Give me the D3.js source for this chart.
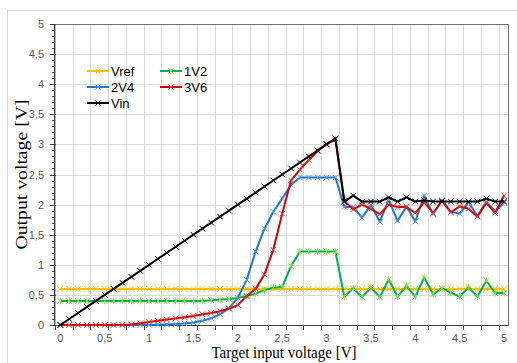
<!DOCTYPE html>
<html>
<head>
<meta charset="utf-8">
<script src="https://cdn.jsdelivr.net/npm/d3@7"></script>
<style>
  body { margin: 0; background: #fff; }
  svg { display: block; }
</style>
</head>
<body>
<div id="chart"></div>
<script>
// x values (target input voltage)
const xValues = [0, 0.1, 0.2, 0.3, 0.4, 0.5, 0.6, 0.7, 0.8, 0.9,
    1, 1.1, 1.2, 1.3, 1.4, 1.5, 1.6, 1.7, 1.8, 1.9,
    2, 2.1, 2.2, 2.3, 2.4, 2.5, 2.6, 2.7, 2.8, 2.9,
    3, 3.1, 3.2, 3.3, 3.4, 3.5, 3.6, 3.7, 3.8, 3.9,
    4, 4.1, 4.2, 4.3, 4.4, 4.5, 4.6, 4.7, 4.8, 4.9, 5];

const vref = [0.6, 0.6, 0.6, 0.6, 0.6, 0.6, 0.6, 0.6, 0.6, 0.6,
    0.6, 0.6, 0.6, 0.6, 0.6, 0.6, 0.6, 0.6, 0.6, 0.6,
    0.6, 0.6, 0.6, 0.6, 0.6, 0.6, 0.6, 0.6, 0.6, 0.6,
    0.6, 0.6, 0.6, 0.6, 0.6, 0.6, 0.6, 0.6, 0.6, 0.6,
    0.6, 0.6, 0.6, 0.6, 0.6, 0.6, 0.6, 0.6, 0.6, 0.6, 0.6];

const v1V2 = [0.4, 0.4, 0.4, 0.4, 0.4, 0.4, 0.4, 0.4, 0.4, 0.4,
    0.4, 0.4, 0.4, 0.4, 0.4, 0.4, 0.4, 0.41, 0.42, 0.43,
    0.45, 0.48, 0.52, 0.58, 0.62, 0.63, 0.98, 1.22, 1.22, 1.22,
    1.22, 1.22, 0.47, 0.61, 0.46, 0.63, 0.46, 0.76, 0.47, 0.65,
    0.47, 0.79, 0.51, 0.61, 0.54, 0.47, 0.63, 0.47, 0.74, 0.53, 0.53];

const v2V4 = [0, 0, 0, 0, 0, 0, 0, 0, 0, 0,
    0, 0.005, 0.01, 0.015, 0.025, 0.04, 0.07, 0.11, 0.18, 0.28,
    0.45, 0.75, 1.22, 1.6, 1.88, 2.1, 2.33, 2.45, 2.45, 2.45,
    2.45, 2.45, 1.96, 1.96, 1.78, 2.0, 1.71, 2.08, 1.73, 1.97,
    1.72, 2.15, 1.84, 2.07, 1.88, 1.85, 2.04, 1.81, 2.05, 1.89, 2.03];

const v3V6 = [0, 0, 0, 0, 0, 0, 0, 0, 0.01, 0.03,
    0.05, 0.07, 0.09, 0.11, 0.13, 0.15, 0.18, 0.2, 0.23, 0.27,
    0.33, 0.48, 0.6, 0.84, 1.25, 1.85, 2.4, 2.58, 2.74, 2.89,
    3.01, 3.08, 2.06, 1.92, 2.0, 1.93, 1.84, 2.0, 1.96, 1.96,
    1.86, 2.04, 1.86, 2.06, 1.87, 1.97, 1.93, 1.8, 2.03, 1.86, 2.15];

const vin = [0, 0.1, 0.2, 0.3, 0.4, 0.5, 0.6, 0.7, 0.8, 0.9,
    1, 1.1, 1.2, 1.3, 1.4, 1.5, 1.6, 1.7, 1.8, 1.9,
    2, 2.1, 2.2, 2.3, 2.4, 2.5, 2.6, 2.7, 2.8, 2.9,
    3, 3.1, 2.05, 2.15, 2.05, 2.05, 2.05, 2.12, 2.05, 2.12,
    2.05, 2.07, 2.05, 2.05, 2.05, 2.05, 2.05, 2.05, 2.1, 2.05, 2.05];

const xTickLabels = [0, 0.5, 1, 1.5, 2, 2.5, 3, 3.5, 4, 4.5, 5];
const yTickLabels = [0, 0.5, 1, 1.5, 2, 2.5, 3, 3.5, 4, 4.5, 5];

const SERIES = [
    { name: "Vref", values: vref, line: "#FFC000", marker: "#FFC000", shape: "x" },
    { name: "1V2", values: v1V2, line: "#00B050", marker: "#92D050", shape: "star" },
    { name: "2V4", values: v2V4, line: "#1E78C8", marker: "#5B9BD5", shape: "x" },
    { name: "3V6", values: v3V6, line: "#D00000", marker: "#E03A3A", shape: "x" },
    { name: "Vin", values: vin, line: "#000000", marker: "#000000", shape: "x" }
];

const width = 517, height = 363;
const plot = { left: 55, right: 508.5, top: 24, bottom: 325 };
const xMin = -0.06, xMax = 5.05;

const svg = d3.select("#chart").append("svg")
    .attr("width", width)
    .attr("height", height);

// outer chart frame
svg.append("rect")
    .attr("x", 7.5).attr("y", 10.5)
    .attr("width", 530).attr("height", 370)
    .attr("fill", "none")
    .attr("stroke", "#d9d9d9");

const x = d3.scaleLinear().domain([xMin, xMax]).range([plot.left, plot.right]);
const y = d3.scaleLinear().domain([0, 5]).range([plot.bottom, plot.top]);

// gridlines (every 0.2 from the axis minimum)
const vGrid = d3.range(0, 26).map(i => xMin + i * 0.2).filter(v => v < xMax - 0.01);
svg.append("g").selectAll("line")
    .data(vGrid.slice(1))
    .enter().append("line")
    .attr("x1", d => Math.round(x(d)) + 0.5).attr("x2", d => Math.round(x(d)) + 0.5)
    .attr("y1", plot.top).attr("y2", plot.bottom)
    .attr("stroke", "#d9d9d9");

svg.append("g").selectAll("line")
    .data(yTickLabels.slice(1, -1))
    .enter().append("line")
    .attr("x1", plot.left).attr("x2", plot.right)
    .attr("y1", d => Math.round(y(d)) + 0.5).attr("y2", d => Math.round(y(d)) + 0.5)
    .attr("stroke", "#d9d9d9");

// plot border
svg.append("rect")
    .attr("x", plot.left).attr("y", plot.top + 0.5)
    .attr("width", plot.right - plot.left).attr("height", plot.bottom - plot.top)
    .attr("fill", "none")
    .attr("stroke", "#707070");

// x axis: ticks on gridline positions, labels at 0.5 steps
const xAxisG = svg.append("g");
xAxisG.append("line")
    .attr("x1", plot.left).attr("x2", plot.right)
    .attr("y1", plot.bottom + 0.5).attr("y2", plot.bottom + 0.5)
    .attr("stroke", "#404040");
xAxisG.selectAll("line.tk")
    .data(vGrid)
    .enter().append("line")
    .attr("class", "tk")
    .attr("x1", d => Math.round(x(d)) + 0.5).attr("x2", d => Math.round(x(d)) + 0.5)
    .attr("y1", plot.bottom).attr("y2", plot.bottom + 5)
    .attr("stroke", "#404040");
xAxisG.selectAll("text")
    .data(xTickLabels)
    .enter().append("text")
    .attr("x", d => x(d))
    .attr("y", plot.bottom + 17)
    .attr("text-anchor", "middle")
    .attr("fill", "#595959")
    .style("font", "11px 'Liberation Sans', Arial, sans-serif")
    .text(d => String(d).replace(".", ","));

// y axis
const yAxisG = svg.append("g");
yAxisG.append("line")
    .attr("x1", plot.left - 0.5).attr("x2", plot.left - 0.5)
    .attr("y1", plot.top).attr("y2", plot.bottom)
    .attr("stroke", "#404040");
const yMinor = d3.range(0, 51).map(i => i / 10);
yAxisG.selectAll("line.tk")
    .data(yMinor)
    .enter().append("line")
    .attr("class", "tk")
    .attr("x1", d => (Math.round(d * 10) % 5 === 0) ? plot.left - 5 : plot.left - 3)
    .attr("x2", d => (Math.round(d * 10) % 5 === 0) ? plot.left + 1 : plot.left)
    .attr("y1", d => Math.round(y(d)) + 0.5).attr("y2", d => Math.round(y(d)) + 0.5)
    .attr("stroke", "#404040");
yAxisG.selectAll("text")
    .data(yTickLabels)
    .enter().append("text")
    .attr("x", plot.left - 11)
    .attr("y", d => y(d) + 4)
    .attr("text-anchor", "end")
    .attr("fill", "#595959")
    .style("font", "11px 'Liberation Sans', Arial, sans-serif")
    .text(d => String(d).replace(".", ","));

// axis titles
svg.append("text")
    .attr("x", 284)
    .attr("y", 358)
    .attr("text-anchor", "middle")
    .attr("textLength", 145)
    .attr("lengthAdjust", "spacingAndGlyphs")
    .style("font", "16px 'Liberation Serif', 'Times New Roman', serif")
    .text("Target input voltage [V]");

svg.append("text")
    .attr("transform", `translate(27,${(plot.top + plot.bottom) / 2}) rotate(-90)`)
    .attr("text-anchor", "middle")
    .attr("textLength", 150)
    .attr("lengthAdjust", "spacingAndGlyphs")
    .style("font", "16px 'Liberation Serif', 'Times New Roman', serif")
    .text("Output voltage [V]");

// marker path
function markerPath(shape, s) {
    let p = `M${-s},${-s}L${s},${s}M${-s},${s}L${s},${-s}`;
    if (shape === "star") p += `M0,${-s - 0.5}L0,${s + 0.5}`;
    return p;
}

// series
const seriesG = svg.append("g");
SERIES.forEach(s => {
    const pts = xValues.map((xv, i) => [xv, s.values[i]]);
    const line = d3.line()
        .x(d => x(d[0]))
        .y(d => y(d[1]));
    seriesG.append("path")
        .datum(pts)
        .attr("d", line)
        .attr("fill", "none")
        .attr("stroke", s.line)
        .attr("stroke-width", 2)
        .attr("stroke-linejoin", "round");
    seriesG.append("g").selectAll("path")
        .data(pts)
        .enter().append("path")
        .attr("transform", d => `translate(${x(d[0])},${y(d[1])})`)
        .attr("d", markerPath(s.shape, 2.8))
        .attr("fill", "none")
        .attr("stroke", s.marker)
        .attr("stroke-width", 1);
});

// legend
const legendPos = [[87, 71], [160, 71], [87, 87], [160, 87], [87, 103]];
const legend = svg.append("g");
SERIES.forEach((s, i) => {
    const [lx, ly] = legendPos[i];
    const g = legend.append("g").attr("transform", `translate(${lx},${ly})`);
    g.append("line")
        .attr("x1", 0).attr("x2", 22)
        .attr("stroke", s.line)
        .attr("stroke-width", 2);
    g.append("path")
        .attr("transform", "translate(11,0)")
        .attr("d", markerPath(s.shape, 2.5))
        .attr("fill", "none")
        .attr("stroke", s.marker);
    g.append("text")
        .attr("x", 24)
        .attr("y", 4.5)
        .style("font", "13px 'Liberation Sans', Arial, sans-serif")
        .text(s.name);
});
</script>
</body>
</html>
